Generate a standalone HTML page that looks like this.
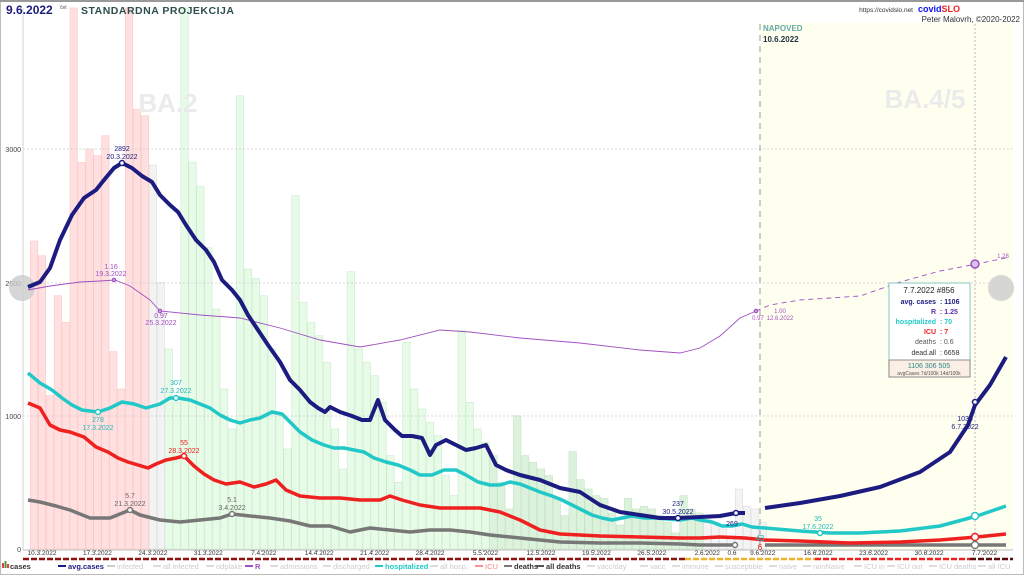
<!DOCTYPE html>
<html><head><meta charset="utf-8">
<style>
html,body{margin:0;padding:0;background:#fff;}
svg{display:block;font-family:"Liberation Sans",sans-serif;}
</style></head>
<body>
<svg id="s" width="1024" height="576" viewBox="0 0 1024 576" xmlns="http://www.w3.org/2000/svg">
<rect x="0" y="0" width="1024" height="576" fill="#fff"/>
<rect x="0.5" y="0.5" width="1023" height="574" fill="none" stroke="#bbb"/>
<line x1="0" y1="1" x2="1024" y2="1" stroke="#999" stroke-width="2"/>
<rect x="760" y="23" width="253" height="527" fill="#fffff0"/>
<g id="bars"></g>
<g stroke="#ccc" stroke-dasharray="2,2" stroke-width="0.7">
<line x1="23" y1="149" x2="1013" y2="149"/>
<line x1="23" y1="283" x2="1013" y2="283"/>
<line x1="23" y1="416" x2="1013" y2="416"/>
</g>
<line x1="23" y1="8" x2="23" y2="550" stroke="#ccc" stroke-width="0.8"/>
<line x1="23" y1="550" x2="1013" y2="550" stroke="#bbb" stroke-width="1"/>
<g font-size="7" fill="#444" text-anchor="end">
<text x="21" y="152">3000</text><text x="21" y="286">2000</text><text x="21" y="419">1000</text><text x="21" y="552">0</text>
</g>
<line x1="760" y1="24" x2="760" y2="549" stroke="#aaa" stroke-width="1.2" stroke-dasharray="6,5"/>
<line x1="975" y1="24" x2="975" y2="549" stroke="#aaa" stroke-width="0.8" stroke-dasharray="2,2"/>
<text x="168" y="112" font-size="26" font-weight="bold" fill="#ebebeb" text-anchor="middle">BA.2</text>
<text x="925" y="108" font-size="26" font-weight="bold" fill="#ebebeb" text-anchor="middle">BA.4/5</text>
<circle cx="22" cy="288" r="13" fill="#ccc" opacity="0.8"/>
<circle cx="1001" cy="288" r="13" fill="#ccc" opacity="0.8"/>
<polyline fill="none" stroke="#a050c0" stroke-width="0.9" points="28,290 50,286 80,282 100,281 115,280 130,286 150,300 160,311 200,315 240,318 280,328 320,340 360,347 400,340 440,330 470,332 520,338 580,343 640,350 680,353 700,348 720,336 740,318 756,311"/>
<polyline fill="none" stroke="#a050c0" stroke-width="0.9" stroke-dasharray="5,4" points="756,311 770,305 800,300 830,298 860,296 900,282 940,271 977,264 1010,257"/>
<polyline fill="none" stroke="#777" stroke-width="3.5" stroke-linejoin="round" points="28,500 40,502 56,506 70,510 90,518 110,518 130,510 140,515 160,520 180,522 200,520 220,518 232,514 250,516 270,518 290,521 310,526 330,526 350,532 370,528 390,530 410,532 430,530 450,530 470,532 490,535 520,538 560,542 600,543 640,543 680,544 700,545 735,545"/>
<polyline fill="none" stroke="#777" stroke-width="3.5" points="765,545 1006,545"/>
<polyline fill="none" stroke="#ee2020" stroke-width="3.5" stroke-linejoin="round" points="28,403 40,408 50,425 60,430 70,432 84,437 96,447 108,452 118,458 128,462 138,465 148,468 156,464 166,460 176,458 184,456 194,466 204,474 214,480 226,484 240,482 254,487 266,484 276,480 286,490 300,496 320,498 340,498 360,500 380,500 390,496 402,500 420,505 440,508 460,508 480,508 500,512 520,520 540,530 560,534 600,536 640,537 680,538 700,538 720,537 745,538 765,540 800,541 850,543 900,542 940,540 977,537 1006,534"/>
<polyline fill="none" stroke="#22c8c8" stroke-width="3.5" stroke-linejoin="round" points="28,373 40,383 52,390 62,398 72,405 82,410 98,412 110,408 122,402 134,404 146,408 160,404 170,398 178,398 190,400 200,404 210,408 220,415 230,420 240,423 250,420 260,418 272,412 282,414 290,422 300,432 312,440 324,445 334,448 344,448 354,450 364,452 374,458 386,462 398,465 410,470 420,475 432,475 444,470 456,470 466,475 478,482 490,485 500,485 510,482 520,484 530,488 540,492 552,496 562,500 572,505 582,510 592,515 602,518 612,520 622,518 632,516 644,518 656,518 668,519 680,520 692,518 700,520 712,522 722,526 732,526 742,524 752,527 765,528 800,531 830,533 860,533 900,531 940,526 977,516 1006,506"/>
<polyline fill="none" stroke="#1c1c80" stroke-width="4" stroke-linejoin="round" points="28,287 40,282 50,268 60,240 72,215 84,198 96,190 104,180 114,168 122,163 132,168 142,176 152,182 160,195 170,205 178,212 186,225 196,240 206,250 214,262 222,280 232,290 240,300 248,315 258,330 268,345 280,362 290,380 300,390 310,402 318,408 325,412 330,407 340,412 352,416 362,420 370,420 378,400 385,420 395,430 402,436 412,436 422,438 430,455 436,445 446,440 456,445 466,450 476,448 486,445 496,465 506,470 520,475 540,480 560,488 580,492 600,505 620,512 640,515 660,518 678,518 700,517 720,516 736,513 745,513"/>
<polyline fill="none" stroke="#1c1c80" stroke-width="4" stroke-linejoin="round" points="765,508 800,503 840,496 880,487 920,472 950,452 968,425 975,405 990,385 1006,357"/>
<g fill="#fff" stroke-width="1.5">
<circle cx="122" cy="163" r="2.5" stroke="#1c1c80"/>
<circle cx="678" cy="518" r="2.5" stroke="#1c1c80"/>
<circle cx="736" cy="513" r="2.5" stroke="#1c1c80"/>
<circle cx="975" cy="402" r="2.5" stroke="#1c1c80"/>
<circle cx="98" cy="412" r="2.5" stroke="#22c8c8"/>
<circle cx="176" cy="398" r="2.5" stroke="#22c8c8"/>
<circle cx="820" cy="533" r="2.5" stroke="#22c8c8"/>
<circle cx="975" cy="516" r="3.5" stroke="#22c8c8"/>
<circle cx="184" cy="456" r="2.5" stroke="#ee2020"/>
<circle cx="975" cy="537" r="3.5" stroke="#ee2020"/>
<circle cx="130" cy="510" r="2.5" stroke="#777"/>
<circle cx="232" cy="514" r="2.5" stroke="#777"/>
<circle cx="735" cy="545" r="2.5" stroke="#777"/>
<circle cx="975" cy="545" r="3.5" stroke="#777"/>
<circle cx="975" cy="264" r="4" stroke="#a050c0" fill="#d9c2e8"/>
<circle cx="114" cy="280" r="1.5" stroke="#a050c0"/>
<circle cx="160" cy="311" r="1.5" stroke="#a050c0"/>
<circle cx="756" cy="311" r="1.5" stroke="#a050c0"/>
</g>
<g font-size="7" text-anchor="middle">
<text x="122" y="151" fill="#1c1c80">2892</text><text x="122" y="159" fill="#1c1c80">20.3.2022</text>
<text x="678" y="506" fill="#1c1c80">237</text><text x="678" y="514" fill="#1c1c80">30.5.2022</text>
<text x="732" y="526" fill="#1c1c80">269</text>
<text x="965" y="421" fill="#1c1c80">1036</text><text x="965" y="429" fill="#1c1c80">6.7.2022</text>
<text x="98" y="422" fill="#22b8b8">278</text><text x="98" y="430" fill="#22b8b8">17.3.2022</text>
<text x="176" y="385" fill="#22b8b8">307</text><text x="176" y="393" fill="#22b8b8">27.3.2022</text>
<text x="818" y="521" fill="#22b8b8">35</text><text x="818" y="529" fill="#22b8b8">17.6.2022</text>
<text x="760" y="541" fill="#22b8b8" font-size="8">43</text>
<text x="760" y="550" fill="#ee2020" font-size="8">6</text>
<text x="184" y="445" fill="#ee2020">55</text><text x="184" y="453" fill="#ee2020">28.3.2022</text>
<text x="130" y="498" fill="#666">5.7</text><text x="130" y="506" fill="#666">21.3.2022</text>
<text x="232" y="502" fill="#666">5.1</text><text x="232" y="510" fill="#666">3.4.2022</text>
<text x="111" y="269" fill="#a050c0">1.16</text><text x="111" y="276" fill="#a050c0">19.3.2022</text>
<text x="161" y="318" fill="#a050c0">0.97</text><text x="161" y="325" fill="#a050c0">25.3.2022</text>
<text x="758" y="320" fill="#a050c0" font-size="6">0.97</text>
<text x="780" y="313" fill="#a050c0" font-size="6">1.00</text><text x="780" y="320" fill="#a050c0" font-size="6">12.6.2022</text>
<text x="1003" y="258" fill="#a050c0" font-size="6">1.28</text>
</g>
<text x="6" y="14" font-size="12" font-weight="bold" fill="#1c1c80">9.6.2022</text>
<text x="60" y="9" font-size="5" fill="#555">čet</text>
<text x="81" y="14" font-size="10.5" font-weight="bold" fill="#2f4f4f" letter-spacing="0.5">STANDARDNA PROJEKCIJA</text>
<text x="913" y="12" font-size="6.5" fill="#333" text-anchor="end">https://covidslo.net</text>
<text x="918" y="12" font-size="9" font-weight="bold" fill="#1010ff">covid<tspan fill="#ee2020">SLO</tspan></text>
<text x="1020" y="22" font-size="8" fill="#333" text-anchor="end">Peter Malovrh, ©2020-2022</text>
<text x="763" y="31" font-size="8" font-weight="bold" fill="#6aa">NAPOVED</text>
<text x="763" y="42" font-size="8" font-weight="bold" fill="#234">10.6.2022</text>
<rect x="889" y="283" width="81" height="94" fill="#fff" stroke="#6bb" stroke-width="0.8"/>
<rect x="889" y="360" width="81" height="17" fill="#fbeee4" stroke="#777" stroke-width="0.8"/>
<g font-size="7" font-weight="bold">
<text x="929" y="293" text-anchor="middle" fill="#222" font-size="8" font-weight="normal">7.7.2022 #856</text>
<text x="936" y="304" text-anchor="end" fill="#1c1c80">avg. cases</text><text x="940" y="304" fill="#1c1c80">: 1106</text>
<text x="936" y="314" text-anchor="end" fill="#6030a0">R</text><text x="940" y="314" fill="#6030a0">: 1.25</text>
<text x="936" y="324" text-anchor="end" fill="#22c8c8">hospitalized</text><text x="940" y="324" fill="#22c8c8">: 70</text>
<text x="936" y="334" text-anchor="end" fill="#ee2020">ICU</text><text x="940" y="334" fill="#ee2020">: 7</text>
<text x="936" y="344" text-anchor="end" fill="#555" font-weight="normal">deaths</text><text x="940" y="344" fill="#555" font-weight="normal">: 0.6</text>
<text x="936" y="355" text-anchor="end" fill="#333" font-weight="normal">dead.all</text><text x="940" y="355" fill="#333" font-weight="normal">: 6658</text>
<text x="929" y="368" text-anchor="middle" fill="#2a8a8a" font-weight="normal">1106  306  505</text>
<text x="929" y="375" text-anchor="middle" fill="#555" font-weight="normal" font-size="5">avgCases 7d/100k 14d/100k</text>
</g>
<line x1="23" y1="559" x2="685" y2="559" stroke="#8b1010" stroke-width="2.5" stroke-dasharray="6,2"/>
<line x1="685" y1="559" x2="815" y2="559" stroke="#f0b030" stroke-width="2.5" stroke-dasharray="6,2"/>
<line x1="815" y1="559" x2="970" y2="559" stroke="#ee2020" stroke-width="2.5" stroke-dasharray="6,2"/>
<line x1="970" y1="559" x2="1013" y2="559" stroke="#5a0a0a" stroke-width="2.5" stroke-dasharray="6,2"/>
<g id="dates" font-size="6.5" fill="#333" text-anchor="middle"></g>
<g id="leg" font-size="7.5"></g>
</svg>
<script>
var NS="http://www.w3.org/2000/svg";
function el(t,a,p,txt){var e=document.createElementNS(NS,t);for(var k in a)e.setAttribute(k,a[k]);if(txt)e.textContent=txt;p.appendChild(e);return e;}
var vals=[2250,2310,2200,1150,1900,1700,4500,2900,3000,2950,3100,1480,1200,4500,3300,3250,2880,2000,1500,1100,4500,2900,2720,2260,1800,1200,900,3400,2100,2030,1900,1500,1000,750,2650,1850,1700,1600,1400,900,600,2080,1500,1400,1300,1100,700,500,1550,1200,1050,950,850,550,400,1640,1100,900,800,700,500,300,1000,700,650,600,550,380,250,730,520,450,400,380,270,180,380,300,320,300,250,200,120,400,300,270,250,200,150,100,450,320,300,200];
var g=document.getElementById("bars");
for(var i=0;i<vals.length;i++){var d=i-2;var x=40+7.92*d-1.7;if(x<23)continue;if(d>91)break;var v=vals[i];var y=549-v*0.1333;if(y<8)y=8;
var f,s;if(d<=13){f="#ffe0e0";s="#ffc4c4";}else if(d<=15){f="#f3f3f3";s="#ddd";}else if(d>=84){f="#f4f4f4";s="#ddd";}else if(d>=57){f="#dcf2dc";s="#c4e4c4";}else{f="#e8fae8";s="#c8eec8";}
el("rect",{x:x,y:y,width:7.4,height:549-y,fill:f,stroke:s,"stroke-width":0.6},g);}
var dl=["10.3.2022","17.3.2022","24.3.2022","31.3.2022","7.4.2022","14.4.2022","21.4.2022","28.4.2022","5.5.2022","12.5.2022","19.5.2022","26.5.2022","2.6.2022","9.6.2022","16.6.2022","23.6.2022","30.6.2022","7.7.2022"];
var dg=document.getElementById("dates");
for(var j=0;j<dl.length;j++){var x=40+7.92*7*j;el("text",{x:x+2,y:555},dg,dl[j]);el("line",{x1:x,y1:550,x2:x,y2:552,stroke:"#999"},dg);}
el("text",{x:732,y:555},dg,"0.6");
var leg=[["cases",10,"#333","bar"],["avg.cases",68,"#1c1c80",1],["infected",117,"#ccc"],["all infected",163,"#ddd"],["odplake",216,"#ddd"],["R",255,"#a050c0",1],["admissions",280,"#ddd"],["discharged",333,"#ddd"],["hospitalized",385,"#22c8c8",1],["all hosp.",440,"#ddd"],["ICU",485,"#ff8080"],["deaths",514,"#333",1],["all deaths",546,"#333",1],["vacc/day",597,"#ddd"],["vacc",650,"#ddd"],["immune",682,"#ddd"],["susceptible",725,"#ddd"],["naive",779,"#ddd"],["nonNaive",813,"#ddd"],["ICU in",864,"#ddd"],["ICU out",897,"#ddd"],["ICU deaths",939,"#ddd"],["all ICU",988,"#ddd"]];
var lg=document.getElementById("leg");
leg.forEach(function(l){var x=l[1];var lc={"deaths":"#777","all deaths":"#555","ICU":"#ff9090"}[l[0]]||l[2];
if(l[3]=="bar"){el("rect",{x:x-8,y:563,width:2,height:5,fill:"#e04040"},lg);el("rect",{x:x-5.5,y:561,width:2,height:7,fill:"#40a040"},lg);el("rect",{x:x-3,y:564,width:2,height:4,fill:"#e04040"},lg);}
else el("line",{x1:x-10,y1:566,x2:x-2,y2:566,stroke:lc,"stroke-width":2},lg);
el("text",{x:x,y:569,fill:l[2]=="#ddd"?"#ccc":l[2],"font-weight":l[3]?"bold":"normal"},lg,l[0]);});
</script>
</body></html>
